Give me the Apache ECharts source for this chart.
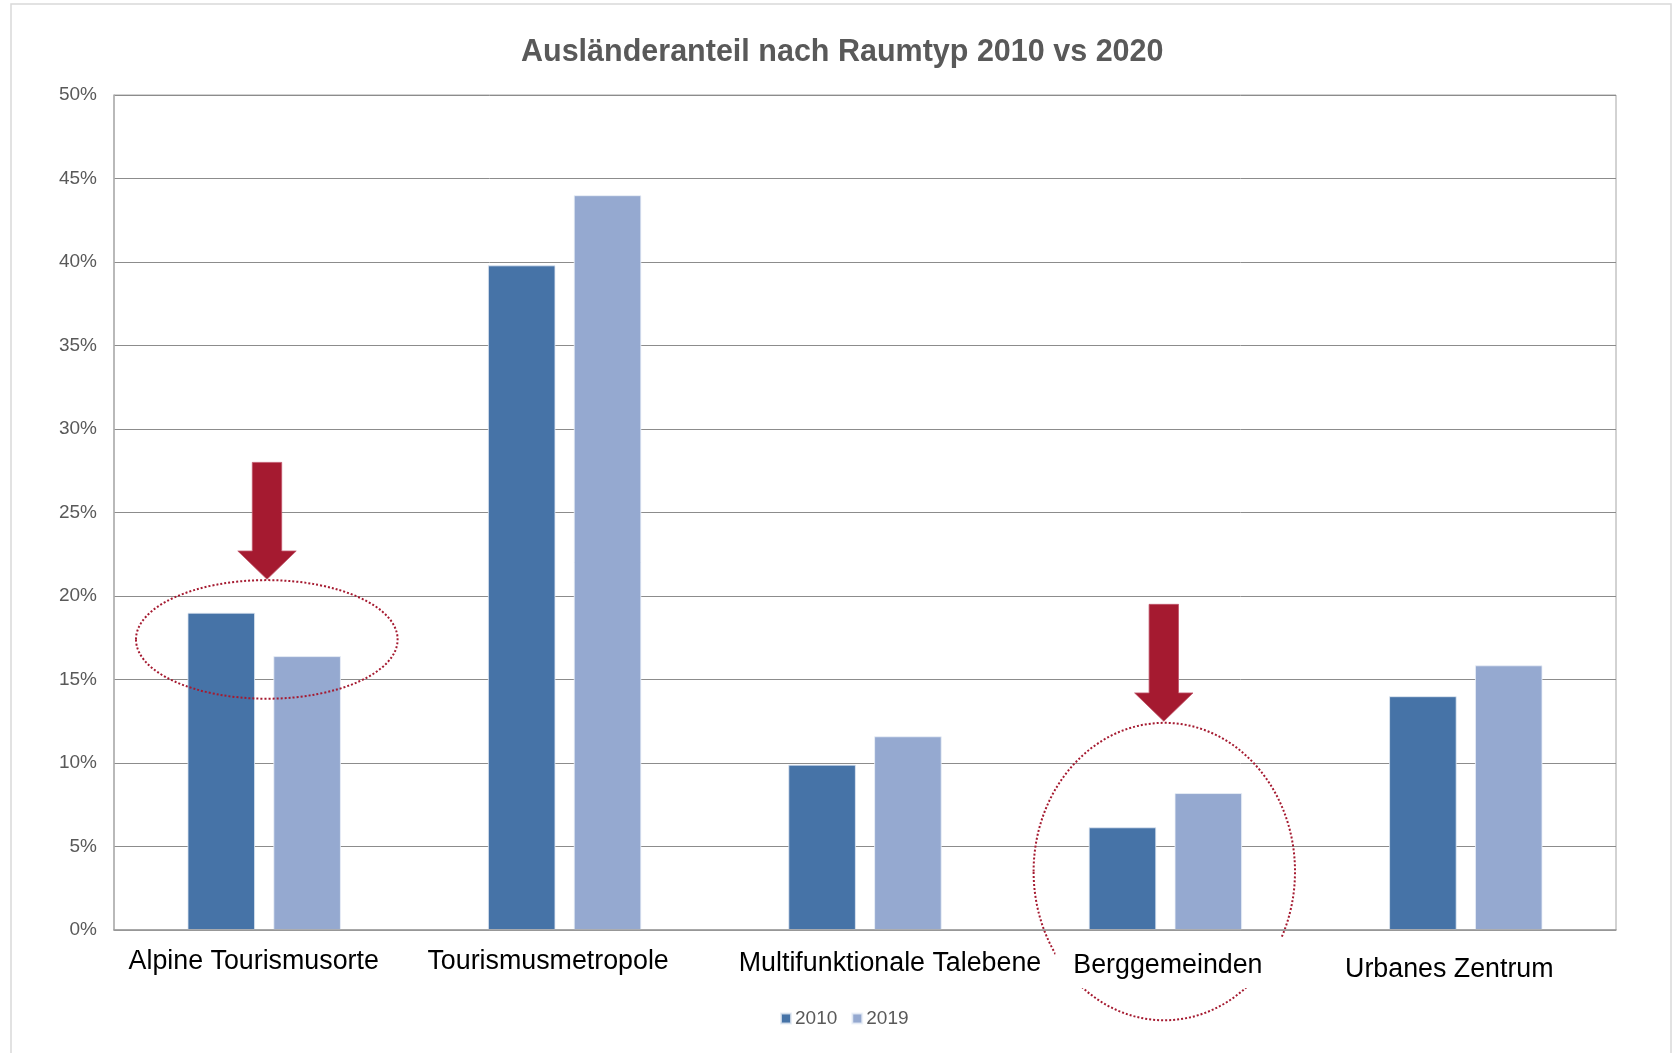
<!DOCTYPE html>
<html>
<head>
<meta charset="utf-8">
<script src="https://cdn.jsdelivr.net/npm/echarts@6/dist/echarts.min.js"></script>
<style>
html,body{margin:0;padding:0;background:#fff;}
#chart{width:1673px;height:1053px;}
</style>
</head>
<body>
<div id="chart"></div>
<script>
// ---- data ----
const categories = ['Alpine Tourismusorte', 'Tourismusmetropole', 'Multifunktionale Talebene', 'Berggemeinden', 'Urbanes Zentrum'];
const seriesNames = ['2010', '2019'];
const values2010 = [19.0, 39.8, 9.9, 6.15, 14.0];
const values2019 = [16.4, 44.0, 11.6, 8.2, 15.85];
const yMin = 0, yMax = 50, yStep = 5;
const titleText = 'Ausländeranteil nach Raumtyp 2010 vs 2020';

// annotation anchors (category index, values in %)
const arrowCategory = [0, 3];
const arrowTopValue = [28.0, 19.5];
const arrowTipValue = [21.0, 12.5];
const ellipseCategory = [0, 3];
const ellipseCenterValue = [17.4, 3.5];

// ---- style/layout ----
const FONT = "'Liberation Sans', Arial, sans-serif";
const C2010 = '#4673A7';
const C2019 = '#95A9D0';
const RED = '#A51A30';
const labelPad = [[0, 21, 0, 0], [0, 33, 0, 0], [0, 0, 0, 50], [0, 0, 0, 5], [0, 33, 0, 0]];
const labelLineHeight = [50, 50, 54, 57, 66];
const ellipseSize = [[130.8, 59.3, 2.6], [130.7, 148.7, -1.1]];

const rich = {};
labelPad.forEach((p, i) => {
  rich['c' + i] = {fontFamily: FONT, fontSize: 26.8, color: '#000', lineHeight: labelLineHeight[i], padding: p};
});

const chart = echarts.init(document.getElementById('chart'), null, {renderer: 'canvas'});
chart.setOption({
  backgroundColor: '#fff',
  animation: false,
  title: {
    text: titleText, left: 521, top: 37, padding: 0,
    textStyle: {fontFamily: FONT, fontSize: 30.5, fontWeight: 'bold', color: '#595959'}
  },
  legend: {
    data: seriesNames, left: 775, top: 1004, itemWidth: 10, itemHeight: 10, itemGap: 14,
    icon: 'rect',
    textStyle: {fontFamily: FONT, fontSize: 19, color: '#595959', padding: [0, 0, 0, -1]}
  },
  grid: {left: 114, right: 57, top: 95, bottom: 123, show: true, borderColor: '#a6a6a6', borderWidth: 1},
  xAxis: {
    type: 'category', data: categories, z: 10,
    axisTick: {show: false},
    axisLine: {lineStyle: {color: '#9a9a9a', width: 1.5}},
    axisLabel: {
      margin: 7, interval: 0,
      formatter: (v, i) => '{c' + i + '|' + v + '}',
      rich: rich
    }
  },
  yAxis: {
    type: 'value', min: yMin, max: yMax, interval: yStep,
    axisLine: {show: true, lineStyle: {color: '#b0b0b0', width: 1.5}},
    axisTick: {show: false},
    splitLine: {lineStyle: {color: '#8c8c8c', width: 1}},
    axisLabel: {formatter: '{value}%', margin: 17, fontFamily: FONT, fontSize: 19, color: '#595959'}
  },
  series: [
    {name: seriesNames[0], type: 'bar', data: values2010, barWidth: '22.5%', barGap: '27%',
     itemStyle: {color: C2010, borderColor: 'rgba(225,232,243,0.8)', borderWidth: 1}},
    {name: seriesNames[1], type: 'bar', data: values2019, barWidth: '22.5%', barGap: '27%',
     itemStyle: {color: C2019, borderColor: 'rgba(235,240,248,0.8)', borderWidth: 1}}
  ]
});

// ---- annotations tied to the data coordinate system ----
const px = (c, v) => chart.convertToPixel({gridIndex: 0}, [c, v]);
const graphics = [];
graphics.push({type: 'rect', silent: true, z: -10, shape: {x: 11, y: 4, width: 1660, height: 1060},
  style: {fill: 'none', stroke: '#d9d9d9', lineWidth: 1.5}});
arrowCategory.forEach((c, i) => {
  const top = px(c, arrowTopValue[i]);
  const tip = px(c, arrowTipValue[i]);
  const x = top[0] + (i === 0 ? 2.8 : -1.6);
  const sw = 14.7, hw = 29.2, hh = 28.3;
  graphics.push({type: 'polygon', silent: true, z: 5, shape: {points: [
    [x - sw, top[1]], [x + sw, top[1]], [x + sw, tip[1] - hh], [x + hw, tip[1] - hh],
    [x, tip[1]], [x - hw, tip[1] - hh], [x - sw, tip[1] - hh]
  ]}, style: {fill: RED, stroke: '#c0566a', lineWidth: 0.8}});
});
ellipseCategory.forEach((c, i) => {
  const ctr = px(c, ellipseCenterValue[i]);
  graphics.push({type: 'ellipse', silent: true, z: 5, shape: {cx: ctr[0] + ellipseSize[i][2], cy: ctr[1], rx: ellipseSize[i][0], ry: ellipseSize[i][1]},
    style: {fill: 'none', stroke: RED, lineWidth: 2, lineDash: [2, 2]}});
});
// white box behind the "Berggemeinden" label that interrupts the ellipse
const base = px(3, 0);
graphics.push({type: 'rect', silent: true, z: 6, shape: {x: base[0] - 110, y: base[1] + 7, width: 234, height: 51},
  style: {fill: '#fff'}});
chart.setOption({graphic: graphics});
</script>
</body>
</html>
